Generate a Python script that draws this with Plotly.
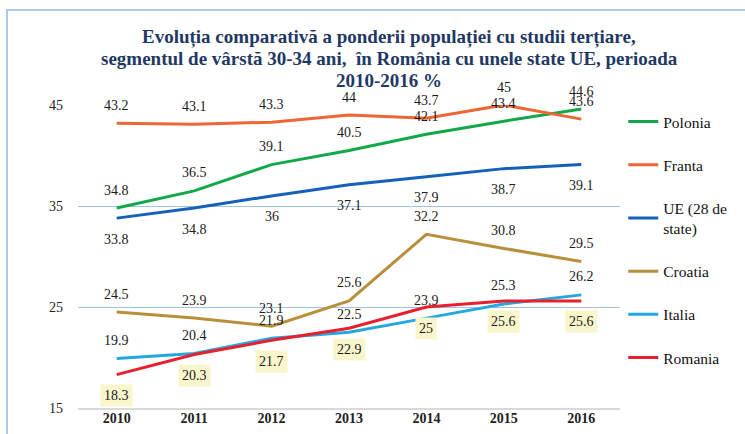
import plotly.graph_objects as go

years = [2010, 2011, 2012, 2013, 2014, 2015, 2016]
polonia = [34.8, 36.5, 39.1, 40.5, 42.1, 43.4, 44.6]
franta = [43.2, 43.1, 43.3, 44.0, 43.7, 45.0, 43.6]
ue = [33.8, 34.8, 36.0, 37.1, 37.9, 38.7, 39.1]
croatia = [24.5, 23.9, 23.1, 25.6, 32.2, 30.8, 29.5]
italia = [19.9, 20.4, 21.9, 22.5, 23.9, 25.3, 26.2]
romania = [18.3, 20.3, 21.7, 22.9, 25.0, 25.6, 25.6]

series = [
    ("Polonia", polonia, "#12A84A", "above"),
    ("Franta", franta, "#EE6633", "above"),
    ("UE (28 de<br>state)", ue, "#1560B8", "below"),
    ("Croatia", croatia, "#B88F3A", "above"),
    ("Italia", italia, "#23A8E0", "above"),
    ("Romania", romania, "#E8202E", "below"),
]
title_lines = [
    "Evoluția comparativă a ponderii populației cu studii terțiare,",
    "segmentul de vârstă 30-34 ani,  în România cu unele state UE, perioada",
    "2010-2016 %",
]

FONT = "Liberation Serif"
W, H = 745, 434
ML, MR, MT, MB = 78, 125, 105, 26
PW, PH = W - ML - MR, H - MT - MB

def px_to_paper_y(py):
    return 1 + (MT - py) / PH

fig = go.Figure()
annotations = []
for i, (name, vals, color, pos) in enumerate(series):
    fig.add_trace(go.Scatter(
        x=years, y=vals, mode="lines", name=name,
        line=dict(color=color, width=3),
        legendgroup=str(i),
    ))
    for x, v in zip(years, vals):
        a = dict(x=x, y=v, xref="x", yref="y", text=f"{v:g}", showarrow=False,
                 font=dict(family=FONT, size=14, color="#1a1a1a"),
                 yshift=18 if pos == "above" else -21)
        if name == "Romania":
            a["bgcolor"] = "#FAF6CC"
            a["borderpad"] = 3
        annotations.append(a)

for line, py in zip(title_lines, [37, 59, 80]):
    annotations.append(dict(
        xref="paper", yref="paper", x=0.574, y=px_to_paper_y(py),
        xanchor="center", yanchor="middle", text=line, showarrow=False,
        font=dict(family=FONT, size=19, color="#1F3864", weight="bold"),
    ))

fig.update_layout(
    width=W, height=H,
    margin=dict(l=ML, r=MR, t=MT, b=MB, autoexpand=False),
    paper_bgcolor="white", plot_bgcolor="white",
    font=dict(family=FONT, size=13, color="#222"),
    showlegend=True,
    legend=dict(x=1.006, y=1.0, xanchor="left", yanchor="top",
                font=dict(family=FONT, size=15.5, color="#111"),
                tracegroupgap=20, bgcolor="rgba(0,0,0,0)", maxheight=400),
    annotations=annotations,
    shapes=[dict(type="rect", xref="paper", yref="paper",
                 x0=(7 - ML) / PW, x1=1.3, y0=-0.2, y1=px_to_paper_y(10),
                 line=dict(color="#A9CBEA", width=2), layer="below")],
)
fig.update_xaxes(range=[2009.5, 2016.5], tickvals=years,
                 ticktext=[str(y) for y in years],
                 showgrid=False, zeroline=False, showline=True,
                 linecolor="#D9D9D9", linewidth=2,
                 tickfont=dict(family=FONT, size=14, color="#222", weight="bold"),
                 ticks="", ticklabelstandoff=-4)
fig.update_yaxes(range=[15, 45], tickvals=[15, 25, 35, 45], showgrid=True,
                 gridcolor="#9DC3E6", gridwidth=1, zeroline=False,
                 tickfont=dict(family=FONT, size=14, color="#222"),
                 ticks="", ticklabelstandoff=14)

fig.write_html("out.html", config={"displayModeBar": False},
               post_script="document.body.style.margin='0';document.body.style.overflow='hidden';")
